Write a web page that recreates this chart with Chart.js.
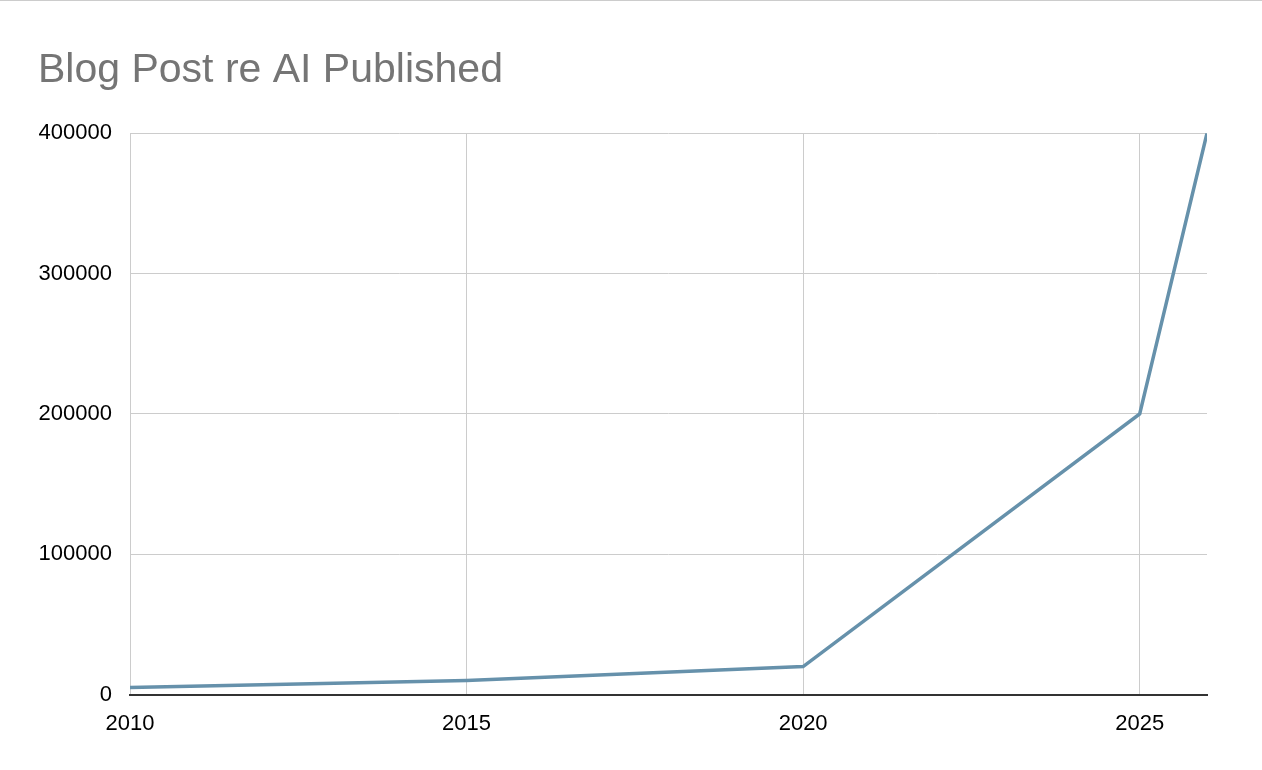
<!DOCTYPE html>
<html lang="en">
  <head>
    <meta charset="UTF-8" />
    <title>Blog Post re AI Published</title>
    <script src="https://cdn.jsdelivr.net/npm/chart.js"></script>
    <style>
      html,
      body {
        margin: 0;
        padding: 0;
        background: #fff;
      }
      .chart-container {
        position: relative;
        width: 1262px;
        height: 769px;
        border-top: 1px solid #cccccc;
      }
    </style>
  </head>
  <body>
    <div class="chart-container">
      <canvas id="blogChart"></canvas>
    </div>

    <script>
      // Data
      const years = [2010, 2015, 2020, 2025, 2026];
      const posts = [5000, 10000, 20000, 200000, 400000];
      const xTicks = [2010, 2015, 2020, 2025];
      const yTicks = [0, 100000, 200000, 300000, 400000];

      const fontFamily = "'Liberation Sans', Arial, sans-serif";

      const ctx = document.getElementById("blogChart").getContext("2d");
      new Chart(ctx, {
        type: "line",
        data: {
          datasets: [
            {
              label: "Blog Post re AI Published",
              data: years.map((y, i) => ({ x: y, y: posts[i] })),
              borderColor: "#6691ab",
              borderWidth: 3.5,
              pointRadius: 0,
              tension: 0,
              fill: false,
            },
          ],
        },
        options: {
          responsive: true,
          maintainAspectRatio: false,
          animation: false,
          layout: {
            padding: { top: 0, left: 38, right: 55, bottom: 17 },
          },
          plugins: {
            legend: { display: false },
            tooltip: { enabled: false },
            title: {
              display: true,
              text: "Blog Post re AI Published",
              align: "start",
              color: "#757575",
              font: { family: fontFamily, size: 41, weight: "normal" },
              padding: { top: 45, bottom: 38 },
            },
          },
          scales: {
            x: {
              type: "linear",
              min: 2010,
              max: 2026,
              afterBuildTicks: (scale) => {
                scale.ticks = xTicks.map((v) => ({ value: v }));
              },
              grid: {
                color: "#cccccc",
                lineWidth: 1,
                drawTicks: false,
              },
              border: { display: true, color: "#333333", width: 2 },
              ticks: {
                color: "#000",
                padding: 16,
                maxRotation: 0,
                font: { family: fontFamily, size: 22 },
                callback: (v) => String(v),
              },
            },
            y: {
              min: 0,
              max: 400000,
              afterBuildTicks: (scale) => {
                scale.ticks = yTicks.map((v) => ({ value: v }));
              },
              afterFit: (scale) => {
                scale.width = 92;
              },
              grid: {
                color: "#cccccc",
                lineWidth: 1,
                drawTicks: false,
              },
              border: { display: false },
              ticks: {
                color: "#000",
                padding: 18,
                font: { family: fontFamily, size: 22 },
                callback: (v) => String(v),
              },
            },
          },
        },
      });
    </script>
  </body>
</html>
